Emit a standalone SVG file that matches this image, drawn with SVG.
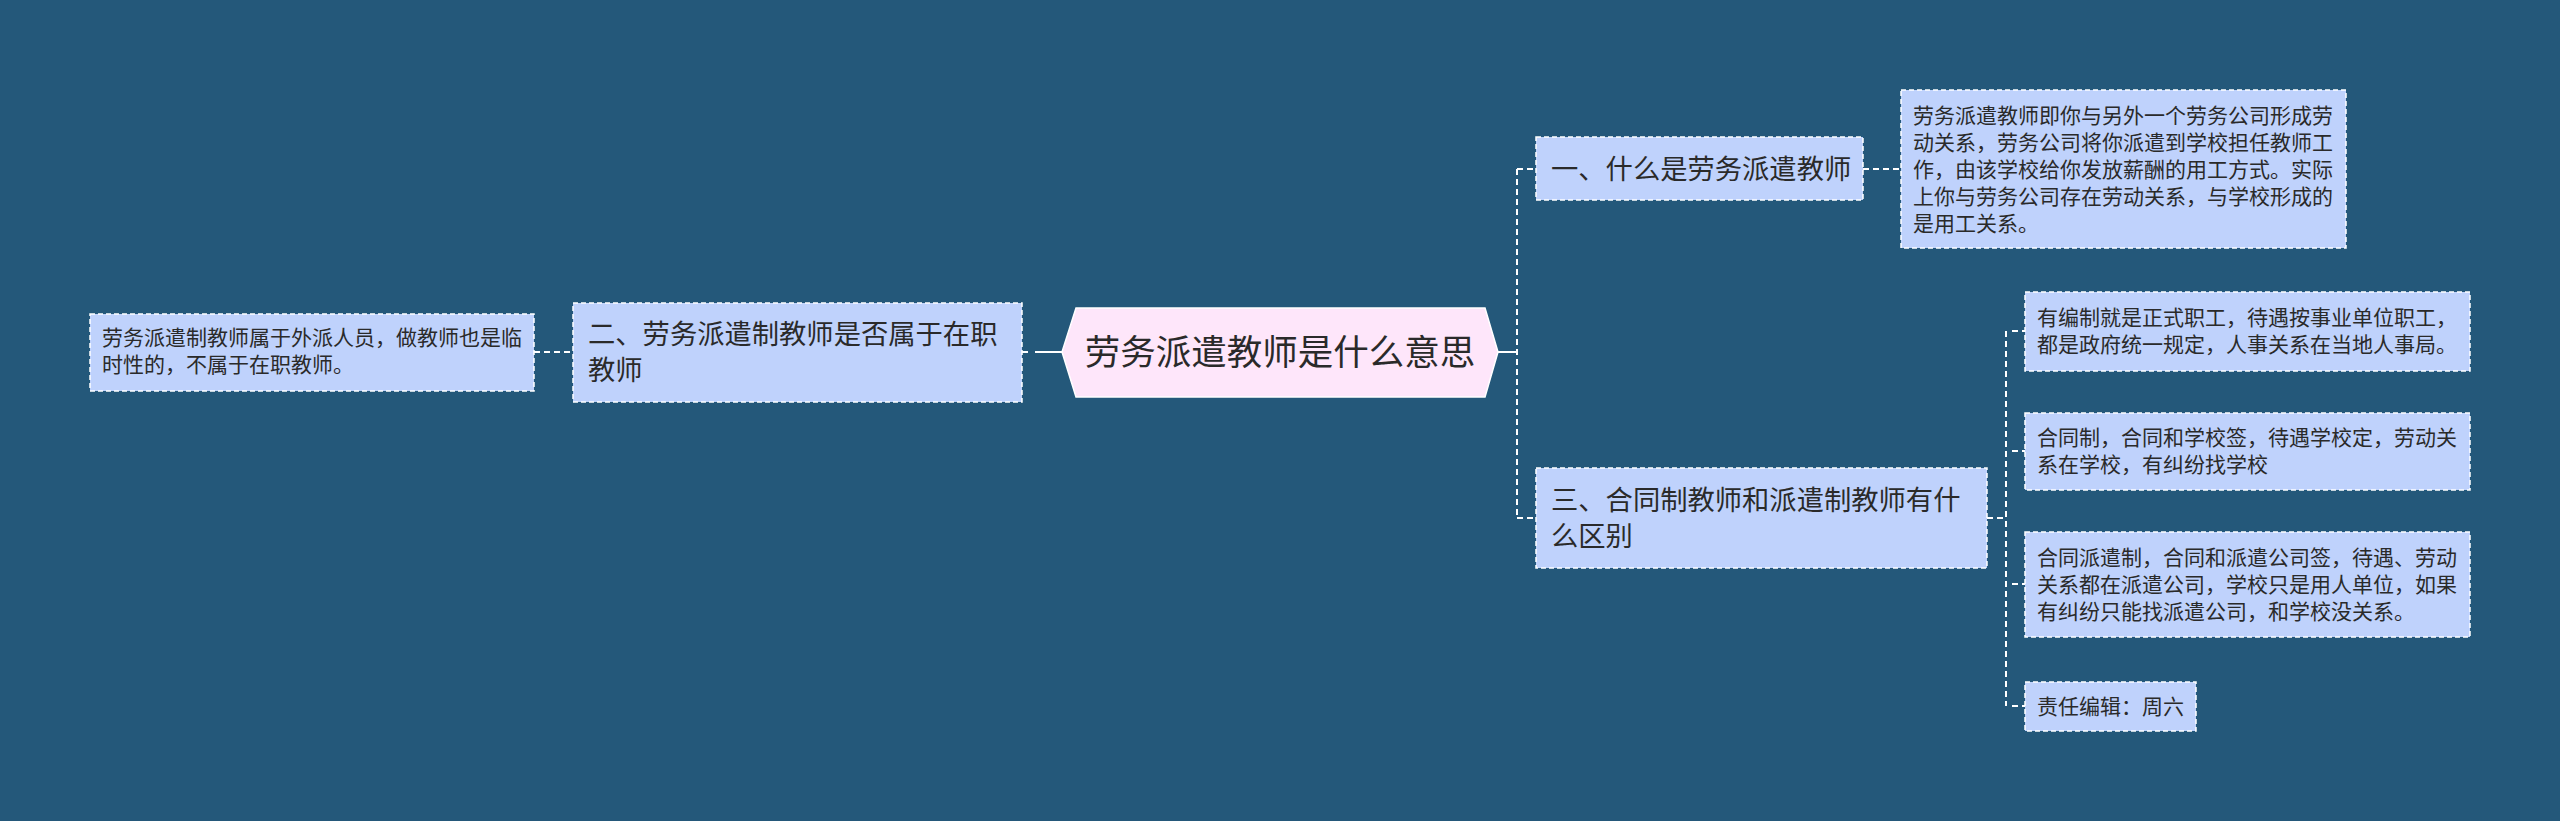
<svg xmlns="http://www.w3.org/2000/svg" width="2560" height="821" viewBox="0 0 2560 821">
<style>
.bg{fill:#24587a}
.box{fill:#bfd2fc;stroke:#ffffff;stroke-width:1.5;stroke-dasharray:5 3}
.hex{fill:#fee6fa;stroke:#ffffff;stroke-width:1.5}
.t{font-family:"Noto Sans CJK SC","Noto Sans",sans-serif;fill:#2a2a2a}
.c{font-size:35.5px}
.l1{font-size:27.3px}
.lf{font-size:21px}
.dash{stroke:#ffffff;stroke-width:2;fill:none;stroke-dasharray:6 4}
.solid{stroke:#ffffff;stroke-width:2;fill:none}
</style>
<rect class="bg" x="0" y="0" width="2560" height="821"/>
<g id="connectors">
<line class="dash" x1="534" y1="352" x2="573" y2="352"/>
<line class="solid" x1="1022" y1="352" x2="1028" y2="352"/>
<line class="solid" x1="1035" y1="352" x2="1063" y2="352"/>
<line class="solid" x1="1498" y1="352" x2="1517" y2="352"/>
<line class="dash" x1="1517" y1="169" x2="1517" y2="518"/>
<line class="dash" x1="1517" y1="169" x2="1536" y2="169"/>
<line class="dash" x1="1517" y1="518" x2="1536" y2="518"/>
<line class="dash" x1="1863" y1="169" x2="1901" y2="169"/>
<line class="dash" x1="1987" y1="518" x2="2006" y2="518"/>
<line class="dash" x1="2006" y1="331" x2="2006" y2="706"/>
<line class="dash" x1="2012" y1="331" x2="2025" y2="331"/>
<line class="dash" x1="2012" y1="451" x2="2025" y2="451"/>
<line class="dash" x1="2012" y1="584" x2="2025" y2="584"/>
<line class="dash" x1="2012" y1="706" x2="2025" y2="706"/>
</g>
<g id="center">
<polygon class="hex" points="1062,352 1076,308 1485,308 1498,352 1485,397 1076,397"/>
<text class="t c" x="1280" y="365" text-anchor="middle">劳务派遣教师是什么意思</text>
</g>
<g id="n-left">
<rect class="box" x="573" y="303" width="449" height="99"/>
<text class="t l1" x="588" y="344">二、劳务派遣制教师是否属于在职</text>
<text class="t l1" x="588" y="380">教师</text>
</g>
<g id="leaf-left">
<rect class="box" x="90" y="314" width="444" height="77"/>
<text class="t lf" x="102" y="345">劳务派遣制教师属于外派人员，做教师也是临</text>
<text class="t lf" x="102" y="372">时性的，不属于在职教师。</text>
</g>
<g id="n-one">
<rect class="box" x="1536" y="137" width="327" height="63"/>
<text class="t l1" x="1551" y="179">一、什么是劳务派遣教师</text>
</g>
<g id="leaf-one">
<rect class="box" x="1901" y="90" width="445" height="158"/>
<text class="t lf" x="1913" y="123">劳务派遣教师即你与另外一个劳务公司形成劳</text>
<text class="t lf" x="1913" y="150">动关系，劳务公司将你派遣到学校担任教师工</text>
<text class="t lf" x="1913" y="177">作，由该学校给你发放薪酬的用工方式。实际</text>
<text class="t lf" x="1913" y="204">上你与劳务公司存在劳动关系，与学校形成的</text>
<text class="t lf" x="1913" y="231">是用工关系。</text>
</g>
<g id="n-three">
<rect class="box" x="1536" y="468" width="451" height="100"/>
<text class="t l1" x="1551" y="510">三、合同制教师和派遣制教师有什</text>
<text class="t l1" x="1551" y="546">么区别</text>
</g>
<g id="leaf-a">
<rect class="box" x="2025" y="292" width="445" height="79"/>
<text class="t lf" x="2037" y="325">有编制就是正式职工，待遇按事业单位职工，</text>
<text class="t lf" x="2037" y="352">都是政府统一规定，人事关系在当地人事局。</text>
</g>
<g id="leaf-b">
<rect class="box" x="2025" y="413" width="445" height="77"/>
<text class="t lf" x="2037" y="445">合同制，合同和学校签，待遇学校定，劳动关</text>
<text class="t lf" x="2037" y="472">系在学校，有纠纷找学校</text>
</g>
<g id="leaf-c">
<rect class="box" x="2025" y="532" width="445" height="105"/>
<text class="t lf" x="2037" y="565">合同派遣制，合同和派遣公司签，待遇、劳动</text>
<text class="t lf" x="2037" y="592">关系都在派遣公司，学校只是用人单位，如果</text>
<text class="t lf" x="2037" y="619">有纠纷只能找派遣公司，和学校没关系。</text>
</g>
<g id="leaf-d">
<rect class="box" x="2025" y="682" width="171" height="49"/>
<text class="t lf" x="2037" y="714">责任编辑：周六</text>
</g>
</svg>
